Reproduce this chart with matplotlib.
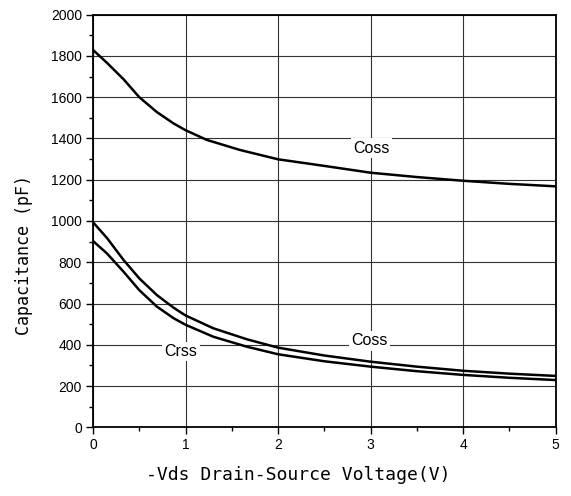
import matplotlib
matplotlib.use("Agg")
import matplotlib.pyplot as plt
from matplotlib.ticker import MultipleLocator

# Data
vds_coss_high = [0, 0.15, 0.33, 0.5, 0.69, 0.87, 1.0, 1.23, 1.59, 2.0, 2.5, 3.0, 3.5, 4.0, 4.5, 5.0]
coss_high = [1829, 1767, 1687, 1600, 1528, 1473, 1440, 1393, 1344, 1299, 1267, 1234, 1213, 1195, 1180, 1168]

vds_low = [0, 0.15, 0.33, 0.5, 0.69, 0.87, 1.0, 1.3, 1.66, 2.0, 2.5, 3.0, 3.5, 4.0, 4.5, 5.0]
coss_low = [994, 918, 811, 722, 641, 580, 542, 480, 427, 386, 348, 318, 294, 274, 260, 249]
crss = [903, 843, 754, 665, 585, 529, 497, 439, 391, 354, 320, 294, 272, 254, 240, 229]

labels = ["Coss", "Coss", "Crss"]
label_pos = [(3.01, 1352), (2.99, 420), (0.95, 367)]

xticks = [0, 1, 2, 3, 4, 5]
yticks = [0, 200, 400, 600, 800, 1000, 1200, 1400, 1600, 1800, 2000]

fig = plt.figure(figsize=(5.71, 4.96), dpi=100)
ax = fig.add_axes([0.1629, 0.1385, 0.9732 - 0.1629, 0.9704 - 0.1385])

for xs, ys in [(vds_coss_high, coss_high), (vds_low, coss_low), (vds_low, crss)]:
    ax.plot(xs, ys, color="black", lw=1.8, zorder=3,
            solid_joinstyle="round", solid_capstyle="round")

for txt, (x, y) in zip(labels, label_pos):
    ax.text(x, y, txt, ha="center", va="center", fontsize=11.5,
            family="Liberation Sans", zorder=4,
            bbox=dict(boxstyle="square,pad=0.15", facecolor="white", edgecolor="none"))

ax.set_xlim(0, 5)
ax.set_ylim(0, 2000)
ax.set_xticks(xticks)
ax.set_yticks(yticks)
ax.xaxis.set_minor_locator(MultipleLocator(0.5))
ax.yaxis.set_minor_locator(MultipleLocator(100))
ax.grid(True, which="major", color="#333333", lw=0.8, zorder=1)
ax.set_axisbelow(True)

ax.tick_params(axis="both", which="major", direction="out", length=5, width=1.0,
               labelsize=10, pad=3)
ax.tick_params(axis="both", which="minor", direction="out", length=3, width=1.0)
for lab in ax.get_xticklabels() + ax.get_yticklabels():
    lab.set_family("Liberation Sans")

for sp in ax.spines.values():
    sp.set_linewidth(1.3)

ax.set_xlabel("-Vds Drain-Source Voltage(V)", family="DejaVu Sans Mono", fontsize=13)
ax.set_ylabel("Capacitance (pF)", family="DejaVu Sans Mono", fontsize=12)
ax.xaxis.set_label_coords(0.443, -0.093)
ax.yaxis.set_label_coords(-0.13, 0.418)

fig.savefig("out.png", dpi=100)
